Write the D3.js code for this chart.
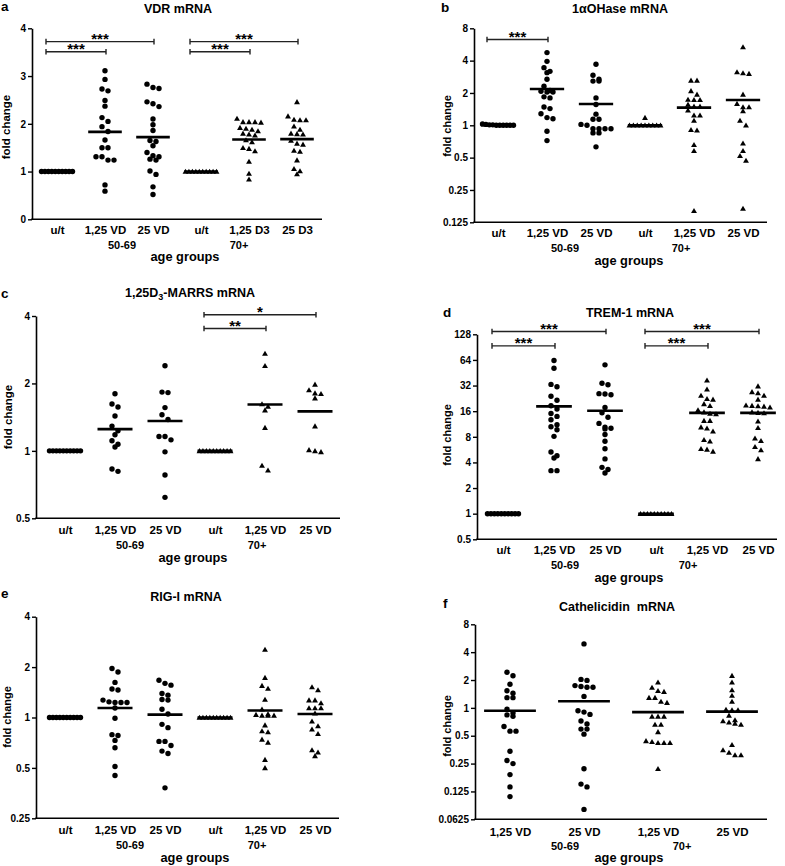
<!DOCTYPE html>
<html><head><meta charset="utf-8">
<script src="https://cdn.jsdelivr.net/npm/d3@7"></script>
<style>
body{margin:0;background:#fff}
svg text{font-family:"Liberation Sans",Arial,sans-serif;font-weight:bold;fill:#000}
</style>
</head><body>
<svg id="chart" width="785" height="866"></svg>
<script>
// ---------- categories / shapes ----------
const catsA = ["u/t","1,25 VD","25 VD","u/t","1,25 D3","25 D3"];
const catsSix = ["u/t","1,25 VD","25 VD","u/t","1,25 VD","25 VD"];
const catsFour = ["1,25 VD","25 VD","1,25 VD","25 VD"];
const shapesSix = ["circle","circle","circle","triangle","triangle","triangle"];
const shapesFour = ["circle","circle","triangle","triangle"];
const groupLabels = ["50-69","70+"];

// ---------- panel a: VDR mRNA ----------
const vdrUT50 = [1,1,1,1,1,1,1,1,1,1];
const vdr125VD = [3.11,2.93,2.73,2.69,2.49,2.37,2.13,2.05,1.94,1.84,1.66,1.50,1.50,1.31,1.31,1.24,1.24,0.72,0.59];
const vdr25VD = [2.83,2.76,2.74,2.46,2.42,2.36,2.10,1.98,1.86,1.65,1.63,1.54,1.40,1.33,1.31,1.24,1.26,1.01,0.94,0.68,0.52];
const vdrUT70 = [1,1,1,1,1,1,1,1,1,1];
const vdr125D3 = [2.11,2.04,2.04,2.04,2.03,1.92,1.90,1.88,1.85,1.80,1.78,1.76,1.66,1.62,1.50,1.48,1.43,1.21,0.96,0.84];
const vdr25D3 = [2.46,2.16,2.09,2.08,2.08,1.95,1.88,1.80,1.79,1.78,1.65,1.59,1.57,1.44,1.42,1.24,1.06,1.01,0.95];
const vdrMedians = [1,1.83,1.72,1,1.67,1.68];
const vdrTicks = ["0","1","2","3","4"];
const vdrBrackets = [{from:0,to:2,label:"***",at:3.72},{from:0,to:1,label:"***",at:3.51},{from:3,to:5,label:"***",at:3.72},{from:3,to:4,label:"***",at:3.51}];

// ---------- panel b: 1αOHase mRNA ----------
const ohUT50 = [1.0,1.0,1.01,1.02,1.0,1.0,1.03,1.0,1.01,1.0];
const oh125VD50 = [4.75,3.94,3.44,3.18,3.09,2.68,2.31,2.11,2.07,2.04,2.04,1.84,1.80,1.48,1.43,1.28,1.18,1.15,0.88,0.72];
const oh25VD50 = [3.70,2.92,2.68,2.58,2.58,1.80,1.56,1.27,1.14,1.14,1.02,1.00,0.93,0.93,0.93,0.93,0.85,0.85,0.63];
const ohUT70 = [1.18,1,1,1,1,1,1,1,1,1];
const oh125VD70 = [2.62,2.62,2.09,1.94,1.74,1.73,1.73,1.56,1.50,1.50,1.38,1.24,1.24,1.11,0.91,0.90,0.66,0.58,0.16];
const oh25VD70 = [5.36,3.14,3.07,3.03,1.94,1.59,1.48,1.48,1.36,1.11,1.00,0.68,0.58,0.52,0.47,0.168];
const ohMedians = [1,2.18,1.58,1,1.46,1.72];
const ohTicks = ["0.125","0.25","0.5","1","2","4","8"];
const ohBrackets = [{from:0,to:1,label:"***",at:6.3}];

// ---------- panel c: 1,25D3-MARRS mRNA ----------
const mUT50 = [1,1,1,1,1,1,1,1,1,1];
const m125VD50 = [1.80,1.62,1.57,1.43,1.29,1.23,1.18,1.11,1.07,1.04,0.83,0.81];
const m25VD50 = [2.40,1.83,1.82,1.56,1.45,1.38,1.16,1.16,1.12,0.99,0.78,0.62];
const mUT70 = [1,1,1,1,1,1,1,1,1,1];
const m125VD70 = [2.72,2.40,1.62,1.58,1.52,1.27,0.86,0.82];
const m25VD70 = [1.98,1.87,1.81,1.80,1.72,1.29,1.01,1.00,0.99];
const mMedians = [1,1.25,1.36,1,1.61,1.50];
const mTicks = ["0.5","1","2","4"];
const mBrackets = [{from:3,to:5,label:"*",at:4.05},{from:3,to:4,label:"**",at:3.52}];

// ---------- panel d: TREM-1 mRNA ----------
const tUT50 = [1,1,1,1,1,1,1,1,1,1];
const t125VD50 = [63,51,33,31,24,21.5,18.5,17,15,13.9,12.7,11.1,10.5,9.7,8.1,5.3,4.8,4.5,3.2,3.2];
const t25VD50 = [56,34,32.7,25.7,25.5,25,17.7,15.3,13.6,11.5,10.4,10.1,9.9,8.5,7.1,5.8,4.4,3.5,3.3,3.0];
const tUT70 = [1,1,1,1,1,1,1,1,1,1];
const t125VD70 = [37,29,24.5,22.4,22,19.5,18.5,16.5,15.6,15,14.8,12.4,12.4,10.4,10.1,9.3,7.4,7.1,5.8,5.7,5.4];
const t25VD70 = [31.5,27,26.2,24.5,22,18.8,18.6,18.4,18.2,17.8,15.6,15.4,15.2,12.2,10.2,7.7,7.2,6.1,5.6,4.4];
const tMedians = [1,18.2,16.2,1,15.3,15.3];
const tTicks = ["0.5","1","2","4","8","16","32","64","128"];
const tBrackets = [{from:0,to:2,label:"***",at:138},{from:0,to:1,label:"***",at:93.7},{from:3,to:5,label:"***",at:138},{from:3,to:4,label:"***",at:93.7}];

// ---------- panel e: RIG-I mRNA ----------
const rUT50 = [1,1,1,1,1,1,1,1,1,1];
const r125VD50 = [1.96,1.87,1.62,1.48,1.46,1.27,1.24,1.23,1.23,1.23,1.14,0.99,0.79,0.78,0.73,0.66,0.51,0.45];
const r25VD50 = [1.67,1.60,1.56,1.39,1.36,1.28,1.27,1.12,1.05,0.91,0.87,0.72,0.72,0.68,0.63,0.61,0.38];
const rUT70 = [1,1,1,1,1,1,1,1,1,1];
const r125VD70 = [2.55,1.73,1.55,1.49,1.28,1.12,1.05,1.04,1.03,1.03,1.03,0.90,0.83,0.82,0.74,0.71,0.56,0.50];
const r25VD70 = [1.52,1.46,1.27,1.27,1.22,1.14,1.14,1.14,1.06,0.95,0.89,0.85,0.80,0.64,0.62,0.59];
const rMedians = [1,1.14,1.04,1,1.10,1.05];
const rTicks = ["0.25","0.5","1","2","4"];

// ---------- panel f: Cathelicidin mRNA ----------
const c125VD50 = [2.43,2.22,1.80,1.53,1.44,1.29,1.29,0.97,0.88,0.84,0.81,0.63,0.56,0.56,0.34,0.27,0.25,0.19,0.14,0.11];
const c25VD50 = [4.91,2.03,1.98,1.74,1.70,1.67,1.67,1.33,0.93,0.90,0.85,0.72,0.67,0.59,0.59,0.52,0.22,0.15,0.14,0.08];
const c125VD70 = [1.89,1.66,1.53,1.50,1.29,1.29,1.17,1.14,0.81,0.81,0.81,0.66,0.66,0.55,0.44,0.43,0.42,0.42,0.42,0.22];
const c25VD70 = [2.23,1.89,1.56,1.36,1.17,0.96,0.95,0.95,0.83,0.74,0.72,0.70,0.68,0.66,0.40,0.35,0.33,0.31,0.31];
const cMedians = [0.93,1.18,0.90,0.91];
const cTicks = ["0.0625","0.125","0.25","0.5","1","2","4","8"];

// ---------- panels (data + layout) ----------
const panels = [
  {letter:"a", title:"VDR mRNA", cats:catsA, shapes:shapesSix, scale:"linear", domain:[0,4], ticks:vdrTicks,
   values:[vdrUT50,vdr125VD,vdr25VD,vdrUT70,vdr125D3,vdr25D3], centers:vdrMedians, brackets:vdrBrackets,
   L:{letter:[1,11], title:[178,13], ax:32, top:28.3, bottom:219.3, right:322, c0:57, c1:297, tickY:234, groups:[[122,249],[239,249]], ag:[185,261], ylab:[10,127], ylabSize:11.5}},
  {letter:"b", title:"1\u03b1OHase mRNA", cats:catsSix, shapes:shapesSix, scale:"log", domain:[0.125,8], ticks:ohTicks,
   values:[ohUT50,oh125VD50,oh25VD50,ohUT70,oh125VD70,oh25VD70], centers:ohMedians, brackets:ohBrackets,
   L:{letter:[441,12], title:[620,13], ax:474, top:28.3, bottom:222.3, right:767, c0:498, c1:743, tickY:237, groups:[[565,252],[681,252]], ag:[629,265], ylab:[451,126], ylabSize:11}},
  {letter:"c", titleParts:["1,25D","3","-MARRS mRNA"], cats:catsSix, shapes:shapesSix, scale:"log", domain:[0.5,4], ticks:mTicks,
   values:[mUT50,m125VD50,m25VD50,mUT70,m125VD70,m25VD70], centers:mMedians, brackets:mBrackets,
   L:{letter:[1,298], title:[190,297], ax:36, top:316, bottom:518.3, right:340, c0:65, c1:315, tickY:534, groups:[[130,549],[257,549]], ag:[193,562], ylab:[12,417], ylabSize:11.5}},
  {letter:"d", title:"TREM-1 mRNA", cats:catsSix, shapes:shapesSix, scale:"log", domain:[0.5,128], ticks:tTicks,
   values:[tUT50,t125VD50,t25VD50,tUT70,t125VD70,t25VD70], centers:tMedians, brackets:tBrackets,
   L:{letter:[443,317], title:[630,317], ax:477, top:334.3, bottom:539.3, right:777, c0:503, c1:758, tickY:554, groups:[[565,569],[688,569]], ag:[629,582], ylab:[451,435], ylabSize:11}},
  {letter:"e", title:"RIG-I mRNA", cats:catsSix, shapes:shapesSix, scale:"log", domain:[0.25,4], ticks:rTicks,
   values:[rUT50,r125VD50,r25VD50,rUT70,r125VD70,r25VD70], centers:rMedians, brackets:[],
   L:{letter:[1,598], title:[186,601], ax:36, top:616.7, bottom:818.3, right:339, c0:65, c1:315, tickY:834, groups:[[130,849],[257,849]], ag:[195,862], ylab:[11,717], ylabSize:11}},
  {letter:"f", title:"Cathelicidin\u00a0 mRNA", cats:catsFour, shapes:shapesFour, scale:"log", domain:[0.0625,8], ticks:cTicks,
   values:[c125VD50,c25VD50,c125VD70,c25VD70], centers:cMedians, brackets:[],
   L:{letter:[443,608], title:[617,611], ax:475, top:624.3, bottom:819.3, right:767, c0:510, c1:732, tickY:836, groups:[[565,850],[682,850]], ag:[629,862], ylab:[451,726], ylabSize:11}}
];

const svg = d3.select("#chart");

// arrange points into horizontal rows (GraphPad-like scatter)
function layoutRows(vals, y, cx, spacing, maxW) {
  const pts = vals.map(v => ({v, py: y(v)})).sort((a, b) => a.py - b.py);
  const rows = [];
  pts.forEach(p => {
    const r = rows[rows.length - 1];
    if (r && p.py - r[0].py < 5) r.push(p); else rows.push([p]);
  });
  rows.forEach(r => {
    const n = r.length;
    const s = n > 1 ? Math.min(spacing, maxW / (n - 1)) : 0;
    r.forEach((p, i) => { p.px = cx + (i - (n - 1) / 2) * s; });
  });
  return pts;
}

panels.forEach(p => {
  const L = p.L;
  const g = svg.append("g");
  const y = (p.scale === "log" ? d3.scaleLog().base(2) : d3.scaleLinear()).domain(p.domain).range([L.bottom, L.top]);
  const x = d3.scalePoint().domain(d3.range(p.cats.length)).range([L.c0, L.c1]);
  const step = x.step();

  // y axis
  const ya = g.append("g").attr("transform", `translate(${L.ax},0)`)
    .call(d3.axisLeft(y).tickValues(p.ticks.map(Number)).tickFormat((d, i) => p.ticks[i]).tickSize(4).tickSizeOuter(0));
  ya.select(".domain").attr("stroke-width", 1.6);
  ya.selectAll(".tick line").attr("stroke-width", 1.4);
  ya.selectAll(".tick text").attr("font-size", 10).attr("x", -6);

  // x axis line + labels
  g.append("line").attr("x1", L.ax - 0.8).attr("x2", L.right).attr("y1", L.bottom).attr("y2", L.bottom)
    .attr("stroke", "#000").attr("stroke-width", 1.6);
  const xa = g.append("g").attr("transform", `translate(0,${L.bottom})`)
    .call(d3.axisBottom(x).tickSize(0).tickFormat(i => p.cats[i]));
  xa.select(".domain").remove();
  xa.selectAll("text").attr("font-size", 11.5).attr("dy", null).attr("y", L.tickY - L.bottom);

  // group labels
  groupLabels.forEach((t, i) => {
    g.append("text").attr("x", L.groups[i][0]).attr("y", L.groups[i][1]).attr("text-anchor", "middle")
      .attr("font-size", 11).text(t);
  });
  g.append("text").attr("x", L.ag[0]).attr("y", L.ag[1]).attr("text-anchor", "middle").attr("font-size", 12.8).text("age groups");

  // y label
  g.append("text").attr("transform", `translate(${L.ylab[0]},${L.ylab[1]}) rotate(-90)`)
    .attr("text-anchor", "middle").attr("font-size", L.ylabSize).text("fold change");

  // title & letter
  const tt = g.append("text").attr("x", L.title[0]).attr("y", L.title[1]).attr("text-anchor", "middle").attr("font-size", 12.5);
  if (p.titleParts) {
    tt.append("tspan").text(p.titleParts[0]);
    tt.append("tspan").attr("dy", 3).attr("font-size", 9).text(p.titleParts[1]);
    tt.append("tspan").attr("dy", -3).text(p.titleParts[2]);
  } else tt.text(p.title);
  g.append("text").attr("x", L.letter[0]).attr("y", L.letter[1]).attr("font-size", 13.5).text(p.letter);

  // points & centre lines
  const tri = d3.symbol().type(d3.symbolTriangle).size(15);
  p.values.forEach((vals, ci) => {
    const cx = x(ci);
    const pts = layoutRows(vals, y, cx, 6, 31);
    if (p.shapes[ci] === "circle") {
      g.selectAll(null).data(pts).join("circle").attr("cx", d => d.px).attr("cy", d => d.py).attr("r", 2.7).attr("fill", "#000");
    } else {
      g.selectAll(null).data(pts).join("path").attr("d", tri)
        .attr("transform", d => `translate(${d.px},${d.py + 0.6})`).attr("fill", "#000");
    }
    const hw = step * 0.35;
    g.append("line").attr("x1", cx - hw).attr("x2", cx + hw).attr("y1", y(p.centers[ci])).attr("y2", y(p.centers[ci]))
      .attr("stroke", "#000").attr("stroke-width", 2.6);
  });

  // significance brackets
  p.brackets.forEach(b => {
    const x1 = x(b.from) - 11, x2 = x(b.to) + 1, yy = y(b.at);
    g.append("path").attr("d", `M${x1},${yy - 2.8}V${yy + 2.8}M${x1},${yy}H${x2}M${x2},${yy - 2.8}V${yy + 2.8}`)
      .attr("fill", "none").attr("stroke", "#222").attr("stroke-width", 1.4);
    g.append("text").attr("x", (x1 + x2) / 2).attr("y", yy + 2.5).attr("text-anchor", "middle")
      .attr("font-size", 15).text(b.label);
  });
});
</script>
</body></html>
